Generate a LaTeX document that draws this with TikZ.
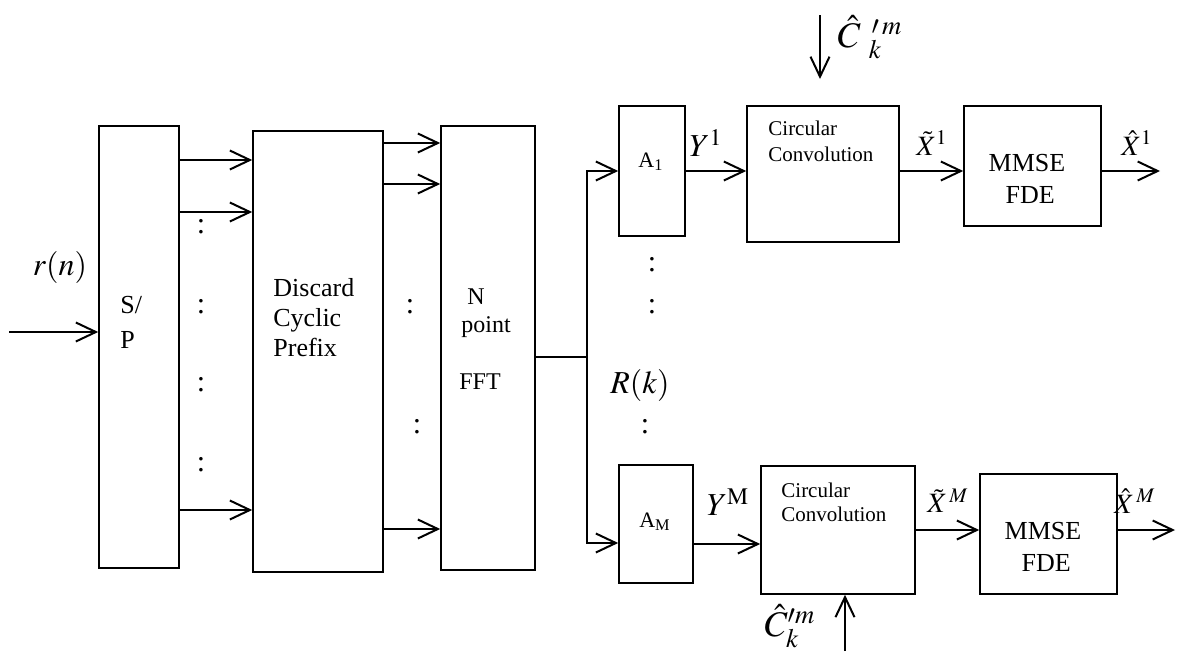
\documentclass[tikz,border=0pt]{standalone}
\usepackage{mathptmx}
\usepackage{fontspec}
\setmainfont{Liberation Serif}
\usetikzlibrary{arrows.meta,positioning}

\begin{document}
\begin{tikzpicture}[x=0.5pt, y=-0.5pt,
    box/.style={rectangle, draw, line width=0.8pt, inner sep=0pt},
    arrow/.style={-{Straight Barb[length=10pt,width=9.5pt]}, line width=1pt},
    wire/.style={line width=1pt},
    txt/.style={inner sep=0pt, align=left},
    lbl/.style={inner sep=0pt, font=\fontsize{16}{19}\selectfont},
    dots/.style={inner sep=0pt, font=\fontsize{15}{15}\selectfont}
]
    \useasboundingbox (0,0) rectangle (1178,653);

    \node[box, minimum width=40pt, minimum height=221pt] (sp) at (139,347) {};
    \node[box, minimum width=65pt, minimum height=220.5pt] (dcp) at (318,351.5) {};
    \node[box, minimum width=47pt, minimum height=222pt] (fft) at (488,348) {};
    \node[box, minimum width=33pt, minimum height=65pt] (a1) at (652,171) {};
    \node[box, minimum width=37pt, minimum height=59pt] (am) at (656,524) {};
    \node[box, minimum width=76pt, minimum height=68pt] (cc1) at (823,174) {};
    \node[box, minimum width=77pt, minimum height=64pt] (cc2) at (838,530) {};
    \node[box, minimum width=68.5pt, minimum height=60pt] (mm1) at (1032.5,166) {};
    \node[box, minimum width=68.5pt, minimum height=60pt] (mm2) at (1048.5,534) {};

    \node[txt, anchor=west, font=\fontsize{13}{17.5}\selectfont] (sptxt) at (120,322) {S/\\P};
    \node[txt, anchor=west, font=\fontsize{13}{15}\selectfont] (dcptxt) at (273,318) {Discard\\Cyclic\\Prefix};
    \node[txt, anchor=west, font=\fontsize{12}{14}\selectfont] (ffttxt) at (461,313) {\ N\\point};
    \node[txt, font=\fontsize{12}{14}\selectfont] (fftlbl) at (480,382) {FFT};
    \node[txt, font=\fontsize{11}{13}\selectfont] (a1txt) at (651,162) {A\textsubscript{1}};
    \node[txt, font=\fontsize{11}{13}\selectfont] (amtxt) at (655,522) {A\textsubscript{M}};
    \node[txt, anchor=west, font=\fontsize{10.5}{13}\selectfont] (cc1txt) at (768,141) {Circular\\Convolution};
    \node[txt, anchor=west, font=\fontsize{10.5}{12}\selectfont] (cc2txt) at (781,502) {Circular\\Convolution};
    \node[txt, align=center, font=\fontsize{13}{16}\selectfont] (mm1txt) at (1027,179) {MMSE\\\ FDE};
    \node[txt, align=center, font=\fontsize{13}{16}\selectfont] (mm2txt) at (1043,547) {MMSE\\\ FDE};

    \node[lbl] (rn) at (60,267) {$r(n)$};
    \node[lbl] (y1) at (706,143) {$Y^{\mathrm{1}}$};
    \node[lbl] (ym) at (728,502) {$Y^{\mathrm{M}}$};
    \node[lbl] (rk) at (640,385) {$R(k)$};
    \node[lbl, font=\fontsize{14}{16}\selectfont] (xt1) at (932,143) {$\tilde{X}^{1}$};
    \node[lbl, font=\fontsize{14}{16}\selectfont] (xh1) at (1137,143) {$\hat{X}^{1}$};
    \node[lbl, font=\fontsize{14}{16}\selectfont] (xtm) at (948,501) {$\tilde{X}^{\,M}$};
    \node[lbl, font=\fontsize{14}{16}\selectfont] (xhm) at (1135,501) {$\hat{X}^{\,M}$};
    \node[lbl, font=\fontsize{18}{20}\selectfont] (ctoplbl) at (870,37) {$\hat{C}\;{}_{k}^{\,\prime\,m}$};
    \node[lbl, font=\fontsize{18}{20}\selectfont] (cbotlbl) at (790,626) {$\hat{C}_{k}^{\prime m}$};

    \foreach \px/\py [count=\i] in {201/227, 201/307, 201/385, 201/465, 410/307, 417/427, 652/265, 652/307, 645/427}
        \node[dots] (dot\i) at (\px,\py) {:};

    \coordinate (in) at (9,332);
    \coordinate (br) at (587,357);
    \coordinate (out1) at (1160,171);
    \coordinate (outm) at (1175,530);
    \coordinate (ctop) at (820,15);
    \coordinate (ctopend) at (820,79);
    \coordinate (cbot) at (845,651);

    \draw[arrow] (in) -- (sp.west |- in);
    \foreach \py in {160, 212, 510}
        \draw[arrow] (sp.east |- 0,\py) -- (dcp.west |- 0,\py);
    \foreach \py in {143, 184, 529}
        \draw[arrow] (dcp.east |- 0,\py) -- (fft.west |- 0,\py);

    \draw[wire] (fft.east |- br) -- (br);
    \draw[arrow] (br) |- (a1.west);
    \draw[arrow] (br) |- (am.west |- 0,543);

    \draw[arrow] (a1.east) -- (cc1.west |- a1.east);
    \draw[arrow] (am.east |- 0,544) -- (cc2.west |- 0,544);
    \draw[arrow] (cc1.east |- out1) -- (mm1.west |- out1);
    \draw[arrow] (mm1.east |- out1) -- (out1);
    \draw[arrow] (cc2.east |- outm) -- (mm2.west |- outm);
    \draw[arrow] (mm2.east |- outm) -- (outm);

    \draw[arrow] (ctop) -- (ctopend);
    \draw[arrow] (cbot) -- (cc2.south -| cbot);
\end{tikzpicture}
\end{document}
